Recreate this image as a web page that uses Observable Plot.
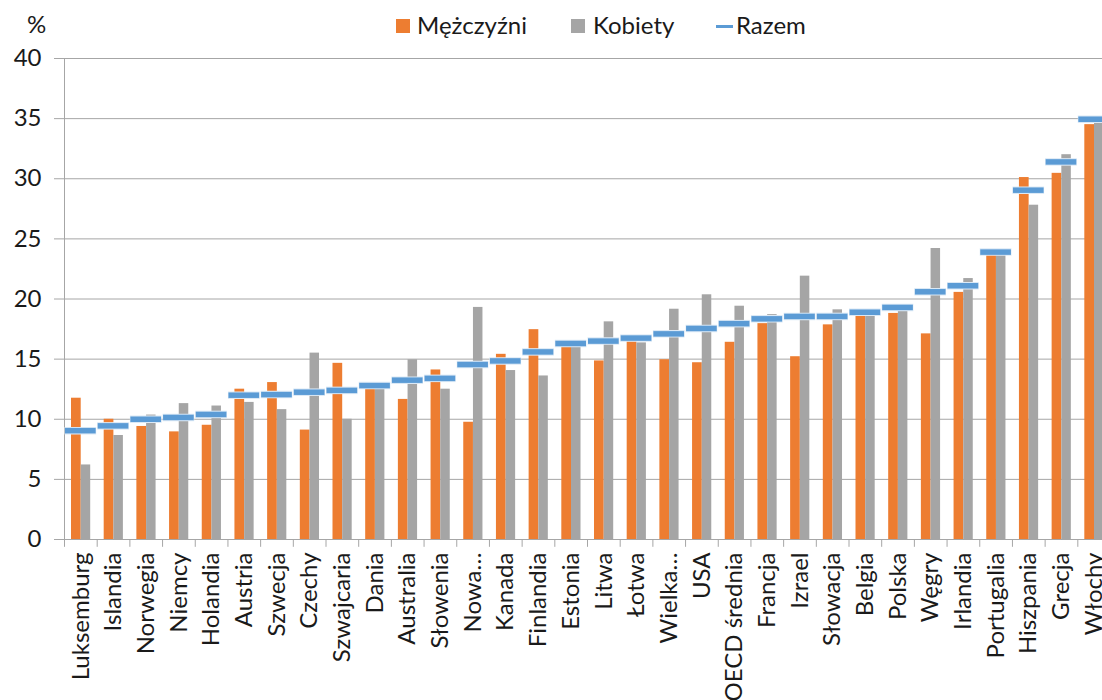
<!DOCTYPE html>
<html><head><meta charset="utf-8">
<script src="https://cdn.jsdelivr.net/npm/d3@7"></script>
<script src="https://cdn.jsdelivr.net/npm/@observablehq/plot@0.6"></script>
<style>
html,body{margin:0;padding:0;background:#fff;overflow:hidden;width:1102px;height:700px}
#wrap{position:relative;width:1102px;height:700px;overflow:hidden;font-family:Lato,"Open Sans",sans-serif;color:#1a1a1a}
#chart{position:absolute;left:0;top:0;width:1112px}
#chart svg{max-width:none !important}
.lab{position:absolute;font-size:24px;line-height:24px;white-space:nowrap}
.sw{position:absolute}
</style>
</head><body>
<div id="wrap">
  <div id="chart"></div>
  <div class="lab" style="left:27px;top:12px">%</div>
  <div class="sw" style="left:396px;top:19px;width:14px;height:14px;background:#ed7d31"></div>
  <div class="lab" style="left:417px;top:13px">Mężczyźni</div>
  <div class="sw" style="left:571px;top:19px;width:14px;height:14px;background:#a5a5a5"></div>
  <div class="lab" style="left:593px;top:13px">Kobiety</div>
  <div class="sw" style="left:716px;top:25px;width:17px;height:3px;background:#5b9bd5"></div>
  <div class="lab" style="left:736px;top:13px">Razem</div>
</div>
<script>
const categories = ["Luksemburg","Islandia","Norwegia","Niemcy","Holandia","Austria","Szwecja","Czechy","Szwajcaria","Dania","Australia","Słowenia","Nowa…","Kanada","Finlandia","Estonia","Litwa","Łotwa","Wielka…","USA","OECD średnia","Francja","Izrael","Słowacja","Belgia","Polska","Węgry","Irlandia","Portugalia","Hiszpania","Grecja","Włochy"];
const men   = [11.75,10.0,9.4,8.95,9.5,12.5,13.05,9.1,14.65,12.6,11.65,14.1,9.75,15.4,17.45,16.0,14.85,16.5,14.95,14.7,16.4,17.95,15.2,17.85,18.6,18.8,17.1,20.55,23.7,30.1,30.45,34.5];
const women = [6.2,8.65,10.35,11.3,11.1,11.4,10.8,15.5,10.0,12.6,14.95,12.5,19.3,14.05,13.6,16.0,18.1,16.35,19.15,20.35,19.4,18.7,21.9,19.1,18.7,19.1,24.2,21.7,23.7,27.8,32.0,34.75];
const total = [9.05,9.45,10.0,10.15,10.4,12.0,12.05,12.25,12.4,12.8,13.25,13.4,14.55,14.85,15.6,16.3,16.5,16.75,17.1,17.55,17.95,18.35,18.55,18.55,18.9,19.3,20.6,21.1,23.9,29.05,31.4,34.95];
const yTicks = [0,5,10,15,20,25,30,35,40];

const data = categories.map((c,i)=>({country:c, men:men[i], women:women[i], total:total[i]}));
const W = 1112, ML = 64, MR = 2;
const bw = (W - ML - MR) / categories.length;
const grid = "#a6a6a6";

const chart = Plot.plot({
  width: W, height: 700,
  marginLeft: ML, marginRight: MR, marginTop: 58, marginBottom: 161,
  style: {fontFamily: "Lato, 'Open Sans', sans-serif", fontSize: "24px", color: "#1a1a1a", background: "transparent", overflow: "visible", maxWidth: "none"},
  x: {domain: categories, padding: 0, round: false, label: null},
  y: {domain: [0, 40], label: null},
  marks: [
    Plot.gridY(yTicks, {stroke: grid, strokeOpacity: 1}),
    Plot.axisY(yTicks, {tickSize: 10, tickPadding: 13, stroke: grid, fontSize: 24, label: null}),
    Plot.ruleX(categories, {x: d => d, dx: -bw/2, y1: 40, y2: 0, stroke: grid, filter: (d,i) => i === 0}),
    Plot.ruleX(categories, {x: d => d, dx: -bw/2, y1: 0, y2: -0.65, stroke: grid}),
    Plot.ruleX(categories, {x: d => d, dx: bw/2, y1: 0, y2: -0.65, stroke: grid, filter: (d,i) => i === categories.length - 1}),
    Plot.barY(data, {x: "country", y: "men", fill: "#ed7d31", insetLeft: 7, insetRight: bw - 16.7}),
    Plot.barY(data, {x: "country", y: "women", fill: "#a5a5a5", insetLeft: 16.7, insetRight: bw - 26.2}),
    Plot.tickY(data, {x: "country", y: "total", stroke: "#dbe9f6", strokeWidth: 7.5, insetLeft: 0.5, insetRight: 0.5}),
    Plot.tickY(data, {x: "country", y: "total", stroke: "#5b9bd5", strokeWidth: 5.5, insetLeft: 1, insetRight: 1}),
    Plot.axisX({tickRotate: -90, tickSize: 0, tickPadding: 13, fontSize: 24, label: null})
  ]
});
document.getElementById("chart").appendChild(chart);
</script>
</body></html>
